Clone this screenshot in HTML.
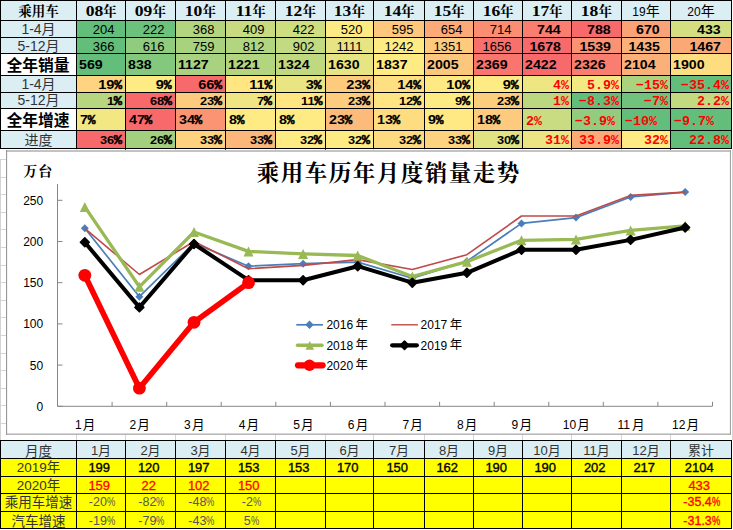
<!DOCTYPE html>
<html><head><meta charset="utf-8"><title>chart</title><style>
html,body{margin:0;padding:0}
body{width:733px;height:530px;position:relative;overflow:hidden;background:#fff;font-family:"Liberation Sans","Noto Sans CJK SC",sans-serif;color:#000}
.c{position:absolute;box-sizing:border-box;white-space:nowrap;overflow:hidden}
.l{position:absolute}
.fs{font-family:"Liberation Serif","Noto Serif CJK SC",serif;font-weight:bold}
.lab0{text-align:center;font-size:13.5px}
.lab1{text-align:center;font-size:14px;color:#333}
.lab2{text-align:center;font-size:15.8px;font-weight:bold;padding-right:1px}
.hd{text-align:center;font:bold 15px "Liberation Serif","Noto Serif CJK SC",serif;padding-top:1px}
.hn{display:inline-block;transform:scaleX(1.17);transform-origin:center center;margin:0 1.3px}
.hy{margin-left:0}
.hd2{text-align:center;font-size:12px;padding-top:1px}
.num{text-align:right;padding-right:10.5px;padding-top:1px;font-size:13px}
.b{font-weight:bold;font-size:13px;padding-right:10.5px}
.sr,.sl{display:inline-block;transform-origin:right center}
.sl{transform-origin:left center}
.tot{text-align:left;padding-left:2px;font-weight:bold;font-size:13.5px}
.pb{text-align:right;padding-right:3px;padding-top:1px;font-weight:bold;font-size:13.5px}
.ps{text-align:right;padding-right:3px;padding-top:1px;font-weight:bold;font-size:11px}
.pbl{text-align:left;padding-left:3px;font-weight:bold;font-size:13.5px}
.pc{font-family:"Liberation Mono",monospace;font-size:.9em;margin-left:-.3px;letter-spacing:0;-webkit-text-stroke:.5px #000}
.ps .pc{font-size:1.08em}
.pr,.prl{font:bold 13.3px "Liberation Mono",monospace;color:#FF0000;text-align:right;padding-right:2px}
.prl{text-align:left;padding-left:3px}
.bl{text-align:center;font-size:13.5px;color:#333}
.bh{text-align:center;font-size:13px;color:#333;padding-top:1px}
.b19{text-align:center;padding-right:3.5px;font-size:13px;-webkit-text-stroke:.35px #000}
.b20{text-align:center;padding-right:3.5px;font-size:13px;color:#FF0000;-webkit-text-stroke:.3px #FF0000}
.bp{text-align:center;padding-left:2px;font-size:12.5px;color:#555}
.pq{display:inline-block;transform:scaleX(.75);transform-origin:left center;margin-right:-2.8px}
.bpr{text-align:center;padding-left:1.5px;font-size:12.5px;color:#FF0000;-webkit-text-stroke:.35px #FF0000}
.ax{font:12px "Liberation Sans","Noto Sans CJK SC",sans-serif;fill:#000}
.axm{font:12.6px "Liberation Sans","Noto Sans CJK SC",sans-serif;fill:#000}
.axy{font:12.4px "Liberation Sans","Noto Sans CJK SC",sans-serif;fill:#000}
</style></head><body>
<div class="c lab0" style="left:1px;top:1px;width:75px;height:19px;background:#DAEEF3;line-height:19px;padding-top:1px"><span class="fs">乘用车</span></div>
<div class="c lab1" style="left:1px;top:21px;width:75px;height:16px;background:#DAEEF3;line-height:16px;">1-4月</div>
<div class="c lab1" style="left:1px;top:38px;width:75px;height:15px;background:#DAEEF3;line-height:15px;padding-top:1px">5-12月</div>
<div class="c lab2" style="left:1px;top:54px;width:75px;height:21px;background:#FFFFFF;line-height:21px;padding-top:1px">全年销量</div>
<div class="c lab1" style="left:1px;top:76px;width:75px;height:16px;background:#DAEEF3;line-height:16px;">1-4月</div>
<div class="c lab1" style="left:1px;top:93px;width:75px;height:15px;background:#DAEEF3;line-height:15px;">5-12月</div>
<div class="c lab2" style="left:1px;top:109px;width:75px;height:21px;background:#FFFFFF;line-height:21px;padding-top:1px">全年增速</div>
<div class="c lab1" style="left:1px;top:131px;width:75px;height:17px;background:#DAEEF3;line-height:17px;padding-top:1px">进度</div>
<div class="c hd" style="left:77px;top:1px;width:48px;height:19px;background:#DAEEF3;line-height:19px;"><span class="hn">08</span><span class="hy" style="font-size:13.5px;">年</span></div>
<div class="c num" style="left:77px;top:21px;width:48px;height:16px;background:#63BE7B;line-height:16px;">204</div>
<div class="c num" style="left:77px;top:38px;width:48px;height:15px;background:#63BE7B;line-height:15px;">366</div>
<div class="c tot" style="left:77px;top:54px;width:48px;height:21px;background:#63BE7B;line-height:21px;"><span class="sl" style="transform:scaleX(1.05)">569</span></div>
<div class="c pb" style="left:77px;top:76px;width:48px;height:16px;background:#FED480;line-height:16px;"><span class="sr" style="transform:scaleX(1.08)">19<span class="pc">%</span></span></div>
<div class="c ps" style="left:77px;top:93px;width:48px;height:15px;background:#B8D680;line-height:15px;"><span class="sr" style="transform:scaleX(1.16)">1<span class="pc">%</span></span></div>
<div class="c pbl" style="left:77px;top:109px;width:48px;height:21px;background:#F3E783;line-height:21px;"><span class="sl" style="transform:scaleX(1.06)">7<span class="pc">%</span></span></div>
<div class="c ps" style="left:77px;top:131px;width:48px;height:17px;background:#F8696B;line-height:17px;"><span class="sr" style="transform:scaleX(1.16)">36<span class="pc">%</span></span></div>
<div class="c hd" style="left:126px;top:1px;width:49px;height:19px;background:#DAEEF3;line-height:19px;"><span class="hn">09</span><span class="hy" style="font-size:13.5px;">年</span></div>
<div class="c num" style="left:126px;top:21px;width:49px;height:16px;background:#6CC17C;line-height:16px;">222</div>
<div class="c num" style="left:126px;top:38px;width:49px;height:15px;background:#90CB7E;line-height:15px;">616</div>
<div class="c tot" style="left:126px;top:54px;width:49px;height:21px;background:#84C87D;line-height:21px;"><span class="sl" style="transform:scaleX(1.05)">838</span></div>
<div class="c pb" style="left:126px;top:76px;width:49px;height:16px;background:#FEEB84;line-height:16px;"><span class="sr" style="transform:scaleX(1.08)">9<span class="pc">%</span></span></div>
<div class="c ps" style="left:126px;top:93px;width:49px;height:15px;background:#F8696B;line-height:15px;"><span class="sr" style="transform:scaleX(1.16)">68<span class="pc">%</span></span></div>
<div class="c pbl" style="left:126px;top:109px;width:49px;height:21px;background:#F8696B;line-height:21px;"><span class="sl" style="transform:scaleX(1.06)">47<span class="pc">%</span></span></div>
<div class="c ps" style="left:126px;top:131px;width:49px;height:17px;background:#A2D07F;line-height:17px;"><span class="sr" style="transform:scaleX(1.16)">26<span class="pc">%</span></span></div>
<div class="c hd" style="left:176px;top:1px;width:49px;height:19px;background:#DAEEF3;line-height:19px;"><span class="hn">10</span><span class="hy" style="font-size:13.5px;">年</span></div>
<div class="c num" style="left:176px;top:21px;width:49px;height:16px;background:#B4D580;line-height:16px;">368</div>
<div class="c num" style="left:176px;top:38px;width:49px;height:15px;background:#A9D27F;line-height:15px;">759</div>
<div class="c tot" style="left:176px;top:54px;width:49px;height:21px;background:#A8D27F;line-height:21px;"><span class="sl" style="transform:scaleX(1.05)">1127</span></div>
<div class="c pb" style="left:176px;top:76px;width:49px;height:16px;background:#F8696B;line-height:16px;"><span class="sr" style="transform:scaleX(1.08)">66<span class="pc">%</span></span></div>
<div class="c ps" style="left:176px;top:93px;width:49px;height:15px;background:#FDCB7E;line-height:15px;"><span class="sr" style="transform:scaleX(1.16)">23<span class="pc">%</span></span></div>
<div class="c pbl" style="left:176px;top:109px;width:49px;height:21px;background:#FA9473;line-height:21px;"><span class="sl" style="transform:scaleX(1.06)">34<span class="pc">%</span></span></div>
<div class="c ps" style="left:176px;top:131px;width:49px;height:17px;background:#FED27F;line-height:17px;"><span class="sr" style="transform:scaleX(1.16)">33<span class="pc">%</span></span></div>
<div class="c hd" style="left:226px;top:1px;width:49px;height:19px;background:#DAEEF3;line-height:19px;"><span class="hn">11</span><span class="hy" style="font-size:13.5px;">年</span></div>
<div class="c num" style="left:226px;top:21px;width:49px;height:16px;background:#C8DB81;line-height:16px;">409</div>
<div class="c num" style="left:226px;top:38px;width:49px;height:15px;background:#B2D580;line-height:15px;">812</div>
<div class="c tot" style="left:226px;top:54px;width:49px;height:21px;background:#B3D580;line-height:21px;"><span class="sl" style="transform:scaleX(1.05)">1221</span></div>
<div class="c pb" style="left:226px;top:76px;width:49px;height:16px;background:#FFE683;line-height:16px;"><span class="sr" style="transform:scaleX(1.08)">11<span class="pc">%</span></span></div>
<div class="c ps" style="left:226px;top:93px;width:49px;height:15px;background:#EFE683;line-height:15px;"><span class="sr" style="transform:scaleX(1.16)">7<span class="pc">%</span></span></div>
<div class="c pbl" style="left:226px;top:109px;width:49px;height:21px;background:#FEEB84;line-height:21px;"><span class="sl" style="transform:scaleX(1.06)">8<span class="pc">%</span></span></div>
<div class="c ps" style="left:226px;top:131px;width:49px;height:17px;background:#FCB77A;line-height:17px;"><span class="sr" style="transform:scaleX(1.16)">33<span class="pc">%</span></span></div>
<div class="c hd" style="left:276px;top:1px;width:49px;height:19px;background:#DAEEF3;line-height:19px;"><span class="hn">12</span><span class="hy" style="font-size:13.5px;">年</span></div>
<div class="c num" style="left:276px;top:21px;width:49px;height:16px;background:#CFDD81;line-height:16px;">422</div>
<div class="c num" style="left:276px;top:38px;width:49px;height:15px;background:#C2DA81;line-height:15px;">902</div>
<div class="c tot" style="left:276px;top:54px;width:49px;height:21px;background:#C0D980;line-height:21px;"><span class="sl" style="transform:scaleX(1.05)">1324</span></div>
<div class="c pb" style="left:276px;top:76px;width:49px;height:16px;background:#EAE583;line-height:16px;"><span class="sr" style="transform:scaleX(1.08)">3<span class="pc">%</span></span></div>
<div class="c ps" style="left:276px;top:93px;width:49px;height:15px;background:#FFE683;line-height:15px;"><span class="sr" style="transform:scaleX(1.16)">11<span class="pc">%</span></span></div>
<div class="c pbl" style="left:276px;top:109px;width:49px;height:21px;background:#FFEB84;line-height:21px;"><span class="sl" style="transform:scaleX(1.06)">8<span class="pc">%</span></span></div>
<div class="c ps" style="left:276px;top:131px;width:49px;height:17px;background:#FFEB84;line-height:17px;"><span class="sr" style="transform:scaleX(1.16)">32<span class="pc">%</span></span></div>
<div class="c hd" style="left:326px;top:1px;width:47px;height:19px;background:#DAEEF3;line-height:19px;"><span class="hn">13</span><span class="hy" style="font-size:13.5px;">年</span></div>
<div class="c num" style="left:326px;top:21px;width:47px;height:16px;background:#FFEB84;line-height:16px;">520</div>
<div class="c num" style="left:326px;top:38px;width:47px;height:15px;background:#E8E483;line-height:15px;">1111</div>
<div class="c tot" style="left:326px;top:54px;width:47px;height:21px;background:#E6E483;line-height:21px;"><span class="sl" style="transform:scaleX(1.05)">1630</span></div>
<div class="c pb" style="left:326px;top:76px;width:47px;height:16px;background:#FDCB7E;line-height:16px;"><span class="sr" style="transform:scaleX(1.08)">23<span class="pc">%</span></span></div>
<div class="c ps" style="left:326px;top:93px;width:47px;height:15px;background:#FDCC7E;line-height:15px;"><span class="sr" style="transform:scaleX(1.16)">23<span class="pc">%</span></span></div>
<div class="c pbl" style="left:326px;top:109px;width:47px;height:21px;background:#FCBA7B;line-height:21px;"><span class="sl" style="transform:scaleX(1.06)">23<span class="pc">%</span></span></div>
<div class="c ps" style="left:326px;top:131px;width:47px;height:17px;background:#FFEB84;line-height:17px;"><span class="sr" style="transform:scaleX(1.16)">32<span class="pc">%</span></span></div>
<div class="c hd" style="left:374px;top:1px;width:50px;height:19px;background:#DAEEF3;line-height:19px;"><span class="hn">14</span><span class="hy" style="font-size:13.5px;">年</span></div>
<div class="c num" style="left:374px;top:21px;width:50px;height:16px;background:#FDC77D;line-height:16px;">595</div>
<div class="c num" style="left:374px;top:38px;width:50px;height:15px;background:#FFEB84;line-height:15px;">1242</div>
<div class="c tot" style="left:374px;top:54px;width:50px;height:21px;background:#FFEB84;line-height:21px;"><span class="sl" style="transform:scaleX(1.05)">1837</span></div>
<div class="c pb" style="left:374px;top:76px;width:50px;height:16px;background:#FEDF82;line-height:16px;"><span class="sr" style="transform:scaleX(1.08)">14<span class="pc">%</span></span></div>
<div class="c ps" style="left:374px;top:93px;width:50px;height:15px;background:#FFE483;line-height:15px;"><span class="sr" style="transform:scaleX(1.16)">12<span class="pc">%</span></span></div>
<div class="c pbl" style="left:374px;top:109px;width:50px;height:21px;background:#FEDD81;line-height:21px;"><span class="sl" style="transform:scaleX(1.06)">13<span class="pc">%</span></span></div>
<div class="c ps" style="left:374px;top:131px;width:50px;height:17px;background:#FEDB81;line-height:17px;"><span class="sr" style="transform:scaleX(1.16)">32<span class="pc">%</span></span></div>
<div class="c hd" style="left:425px;top:1px;width:48px;height:19px;background:#DAEEF3;line-height:19px;"><span class="hn">15</span><span class="hy" style="font-size:13.5px;">年</span></div>
<div class="c num" style="left:425px;top:21px;width:48px;height:16px;background:#FCAA78;line-height:16px;">654</div>
<div class="c num" style="left:425px;top:38px;width:48px;height:15px;background:#FDCA7E;line-height:15px;">1351</div>
<div class="c tot" style="left:425px;top:54px;width:48px;height:21px;background:#FDC67D;line-height:21px;"><span class="sl" style="transform:scaleX(1.05)">2005</span></div>
<div class="c pb" style="left:425px;top:76px;width:48px;height:16px;background:#FFE984;line-height:16px;"><span class="sr" style="transform:scaleX(1.08)">10<span class="pc">%</span></span></div>
<div class="c ps" style="left:425px;top:93px;width:48px;height:15px;background:#FFEB84;line-height:15px;"><span class="sr" style="transform:scaleX(1.16)">9<span class="pc">%</span></span></div>
<div class="c pbl" style="left:425px;top:109px;width:48px;height:21px;background:#FFE984;line-height:21px;"><span class="sl" style="transform:scaleX(1.06)">9<span class="pc">%</span></span></div>
<div class="c ps" style="left:425px;top:131px;width:48px;height:17px;background:#FED37F;line-height:17px;"><span class="sr" style="transform:scaleX(1.16)">33<span class="pc">%</span></span></div>
<div class="c hd" style="left:474px;top:1px;width:48px;height:19px;background:#DAEEF3;line-height:19px;"><span class="hn">16</span><span class="hy" style="font-size:13.5px;">年</span></div>
<div class="c num" style="left:474px;top:21px;width:48px;height:16px;background:#FA8D72;line-height:16px;">714</div>
<div class="c num" style="left:474px;top:38px;width:48px;height:15px;background:#F8706C;line-height:15px;">1656</div>
<div class="c tot" style="left:474px;top:54px;width:48px;height:21px;background:#F9756D;line-height:21px;"><span class="sl" style="transform:scaleX(1.05)">2369</span></div>
<div class="c pb" style="left:474px;top:76px;width:48px;height:16px;background:#FFEB84;line-height:16px;"><span class="sr" style="transform:scaleX(1.08)">9<span class="pc">%</span></span></div>
<div class="c ps" style="left:474px;top:93px;width:48px;height:15px;background:#FDCD7E;line-height:15px;"><span class="sr" style="transform:scaleX(1.16)">23<span class="pc">%</span></span></div>
<div class="c pbl" style="left:474px;top:109px;width:48px;height:21px;background:#FDCA7E;line-height:21px;"><span class="sl" style="transform:scaleX(1.06)">18<span class="pc">%</span></span></div>
<div class="c ps" style="left:474px;top:131px;width:48px;height:17px;background:#E1E282;line-height:17px;"><span class="sr" style="transform:scaleX(1.16)">30<span class="pc">%</span></span></div>
<div class="c hd" style="left:523px;top:1px;width:48px;height:19px;background:#DAEEF3;line-height:19px;"><span class="hn">17</span><span class="hy" style="font-size:13.5px;">年</span></div>
<div class="c num b" style="left:523px;top:21px;width:48px;height:16px;background:#F97E6F;line-height:16px;"><span class="sr" style="transform:scaleX(1.09)">744</span></div>
<div class="c num b" style="left:523px;top:38px;width:48px;height:15px;background:#F8696B;line-height:15px;"><span class="sr" style="transform:scaleX(1.09)">1678</span></div>
<div class="c tot" style="left:523px;top:54px;width:48px;height:21px;background:#F8696B;line-height:21px;"><span class="sl" style="transform:scaleX(1.05)">2422</span></div>
<div class="c pr" style="left:523px;top:76px;width:48px;height:16px;background:#EEE683;line-height:16px;padding-top:2px">4%</div>
<div class="c pr" style="left:523px;top:93px;width:48px;height:15px;background:#BBD780;line-height:15px;padding-top:1px">1%</div>
<div class="c prl" style="left:523px;top:109px;width:48px;height:21px;background:#CADC81;line-height:21px;padding-top:2px">2%</div>
<div class="c pr" style="left:523px;top:131px;width:48px;height:17px;background:#EBE583;line-height:17px;padding-top:1px">31%</div>
<div class="c hd" style="left:572px;top:1px;width:49px;height:19px;background:#DAEEF3;line-height:19px;"><span class="hn">18</span><span class="hy" style="font-size:13.5px;">年</span></div>
<div class="c num b" style="left:572px;top:21px;width:49px;height:16px;background:#F8696B;line-height:16px;"><span class="sr" style="transform:scaleX(1.09)">788</span></div>
<div class="c num b" style="left:572px;top:38px;width:49px;height:15px;background:#FA9273;line-height:15px;"><span class="sr" style="transform:scaleX(1.09)">1539</span></div>
<div class="c tot" style="left:572px;top:54px;width:49px;height:21px;background:#F97E6F;line-height:21px;"><span class="sl" style="transform:scaleX(1.05)">2326</span></div>
<div class="c pr" style="left:572px;top:76px;width:49px;height:16px;background:#F4E883;line-height:16px;padding-top:2px">5.9%</div>
<div class="c pr" style="left:572px;top:93px;width:49px;height:15px;background:#63BE7B;line-height:15px;padding-top:1px">−8.3%</div>
<div class="c prl" style="left:572px;top:109px;width:49px;height:21px;background:#94CC7E;line-height:21px;padding-top:2px">−3.9%</div>
<div class="c pr" style="left:572px;top:131px;width:49px;height:17px;background:#FBAA77;line-height:17px;padding-top:1px">33.9%</div>
<div class="c hd2" style="left:622px;top:1px;width:48px;height:19px;background:#DAEEF3;line-height:19px;">19<span style="font-size:14px;">年</span></div>
<div class="c num b" style="left:622px;top:21px;width:48px;height:16px;background:#FBA276;line-height:16px;"><span class="sr" style="transform:scaleX(1.09)">670</span></div>
<div class="c num b" style="left:622px;top:38px;width:48px;height:15px;background:#FCB179;line-height:15px;"><span class="sr" style="transform:scaleX(1.09)">1435</span></div>
<div class="c tot" style="left:622px;top:54px;width:48px;height:21px;background:#FCB079;line-height:21px;"><span class="sl" style="transform:scaleX(1.05)">2104</span></div>
<div class="c pr" style="left:622px;top:76px;width:48px;height:16px;background:#AAD37F;line-height:16px;padding-top:2px">−15%</div>
<div class="c pr" style="left:622px;top:93px;width:48px;height:15px;background:#71C27C;line-height:15px;padding-top:1px">−7%</div>
<div class="c prl" style="left:622px;top:109px;width:48px;height:21px;background:#64BE7B;line-height:21px;padding-top:2px">−10%</div>
<div class="c pr" style="left:622px;top:131px;width:48px;height:17px;background:#FEEB84;line-height:17px;padding-top:1px">32%</div>
<div class="c hd2" style="left:671px;top:1px;width:60px;height:19px;background:#DAEEF3;line-height:19px;">20<span style="font-size:14px;">年</span></div>
<div class="c num b" style="left:671px;top:21px;width:60px;height:16px;background:#D4DF82;line-height:16px;"><span class="sr" style="transform:scaleX(1.09)">433</span></div>
<div class="c num b" style="left:671px;top:38px;width:60px;height:15px;background:#FBA877;line-height:15px;"><span class="sr" style="transform:scaleX(1.09)">1467</span></div>
<div class="c tot" style="left:671px;top:54px;width:60px;height:21px;background:#FEDD81;line-height:21px;"><span class="sl" style="transform:scaleX(1.05)">1900</span></div>
<div class="c pr" style="left:671px;top:76px;width:60px;height:16px;background:#63BE7B;line-height:16px;padding-top:2px">−35.4%</div>
<div class="c pr" style="left:671px;top:93px;width:60px;height:15px;background:#C3DA81;line-height:15px;padding-top:1px">2.2%</div>
<div class="c prl" style="left:671px;top:109px;width:60px;height:21px;background:#63BE7B;line-height:21px;padding-top:2px">−9.7%</div>
<div class="c pr" style="left:671px;top:131px;width:60px;height:17px;background:#63BE7B;line-height:17px;padding-top:1px">22.8%</div>
<div class="c bl" style="left:1px;top:441px;width:75px;height:17px;background:#DAEEF3;line-height:17px;padding-top:2px">月度</div>
<div class="c bl" style="left:1px;top:459px;width:75px;height:17px;background:#FFFF00;line-height:17px;">2019年</div>
<div class="c bl" style="left:1px;top:477px;width:75px;height:16px;background:#FFFF00;line-height:16px;padding-top:1px">2020年</div>
<div class="c bl" style="left:1px;top:494px;width:75px;height:17px;background:#FFFF00;line-height:17px;">乘用车增速</div>
<div class="c bl" style="left:1px;top:512px;width:75px;height:16px;background:#FFFF00;line-height:16px;padding-top:2px">汽车增速</div>
<div class="c bh" style="left:77px;top:441px;width:48px;height:17px;background:#DAEEF3;line-height:17px;">1月</div>
<div class="c b19" style="left:77px;top:459px;width:48px;height:17px;background:#FFFF00;line-height:17px;">199</div>
<div class="c b20" style="left:77px;top:477px;width:48px;height:16px;background:#FFFF00;line-height:16px;padding-top:1px">159</div>
<div class="c bp" style="left:77px;top:494px;width:48px;height:17px;background:#FFFF00;line-height:17px;">-20<span class="pq">%</span></div>
<div class="c bp" style="left:77px;top:512px;width:48px;height:16px;background:#FFFF00;line-height:16px;padding-top:1px">-19<span class="pq">%</span></div>
<div class="c bh" style="left:126px;top:441px;width:49px;height:17px;background:#DAEEF3;line-height:17px;">2月</div>
<div class="c b19" style="left:126px;top:459px;width:49px;height:17px;background:#FFFF00;line-height:17px;">120</div>
<div class="c b20" style="left:126px;top:477px;width:49px;height:16px;background:#FFFF00;line-height:16px;padding-top:1px">22</div>
<div class="c bp" style="left:126px;top:494px;width:49px;height:17px;background:#FFFF00;line-height:17px;">-82<span class="pq">%</span></div>
<div class="c bp" style="left:126px;top:512px;width:49px;height:16px;background:#FFFF00;line-height:16px;padding-top:1px">-79<span class="pq">%</span></div>
<div class="c bh" style="left:176px;top:441px;width:49px;height:17px;background:#DAEEF3;line-height:17px;">3月</div>
<div class="c b19" style="left:176px;top:459px;width:49px;height:17px;background:#FFFF00;line-height:17px;">197</div>
<div class="c b20" style="left:176px;top:477px;width:49px;height:16px;background:#FFFF00;line-height:16px;padding-top:1px">102</div>
<div class="c bp" style="left:176px;top:494px;width:49px;height:17px;background:#FFFF00;line-height:17px;">-48<span class="pq">%</span></div>
<div class="c bp" style="left:176px;top:512px;width:49px;height:16px;background:#FFFF00;line-height:16px;padding-top:1px">-43<span class="pq">%</span></div>
<div class="c bh" style="left:226px;top:441px;width:49px;height:17px;background:#DAEEF3;line-height:17px;">4月</div>
<div class="c b19" style="left:226px;top:459px;width:49px;height:17px;background:#FFFF00;line-height:17px;">153</div>
<div class="c b20" style="left:226px;top:477px;width:49px;height:16px;background:#FFFF00;line-height:16px;padding-top:1px">150</div>
<div class="c bp" style="left:226px;top:494px;width:49px;height:17px;background:#FFFF00;line-height:17px;">-2<span class="pq">%</span></div>
<div class="c bp" style="left:226px;top:512px;width:49px;height:16px;background:#FFFF00;line-height:16px;padding-top:1px">5<span class="pq">%</span></div>
<div class="c bh" style="left:276px;top:441px;width:49px;height:17px;background:#DAEEF3;line-height:17px;">5月</div>
<div class="c b19" style="left:276px;top:459px;width:49px;height:17px;background:#FFFF00;line-height:17px;">153</div>
<div class="c b20" style="left:276px;top:477px;width:49px;height:16px;background:#FFFF00;line-height:16px;padding-top:1px"></div>
<div class="c bp" style="left:276px;top:494px;width:49px;height:17px;background:#FFFF00;line-height:17px;"></div>
<div class="c bp" style="left:276px;top:512px;width:49px;height:16px;background:#FFFF00;line-height:16px;padding-top:1px"></div>
<div class="c bh" style="left:326px;top:441px;width:47px;height:17px;background:#DAEEF3;line-height:17px;">6月</div>
<div class="c b19" style="left:326px;top:459px;width:47px;height:17px;background:#FFFF00;line-height:17px;">170</div>
<div class="c b20" style="left:326px;top:477px;width:47px;height:16px;background:#FFFF00;line-height:16px;padding-top:1px"></div>
<div class="c bp" style="left:326px;top:494px;width:47px;height:17px;background:#FFFF00;line-height:17px;"></div>
<div class="c bp" style="left:326px;top:512px;width:47px;height:16px;background:#FFFF00;line-height:16px;padding-top:1px"></div>
<div class="c bh" style="left:374px;top:441px;width:50px;height:17px;background:#DAEEF3;line-height:17px;">7月</div>
<div class="c b19" style="left:374px;top:459px;width:50px;height:17px;background:#FFFF00;line-height:17px;">150</div>
<div class="c b20" style="left:374px;top:477px;width:50px;height:16px;background:#FFFF00;line-height:16px;padding-top:1px"></div>
<div class="c bp" style="left:374px;top:494px;width:50px;height:17px;background:#FFFF00;line-height:17px;"></div>
<div class="c bp" style="left:374px;top:512px;width:50px;height:16px;background:#FFFF00;line-height:16px;padding-top:1px"></div>
<div class="c bh" style="left:425px;top:441px;width:48px;height:17px;background:#DAEEF3;line-height:17px;">8月</div>
<div class="c b19" style="left:425px;top:459px;width:48px;height:17px;background:#FFFF00;line-height:17px;">162</div>
<div class="c b20" style="left:425px;top:477px;width:48px;height:16px;background:#FFFF00;line-height:16px;padding-top:1px"></div>
<div class="c bp" style="left:425px;top:494px;width:48px;height:17px;background:#FFFF00;line-height:17px;"></div>
<div class="c bp" style="left:425px;top:512px;width:48px;height:16px;background:#FFFF00;line-height:16px;padding-top:1px"></div>
<div class="c bh" style="left:474px;top:441px;width:48px;height:17px;background:#DAEEF3;line-height:17px;">9月</div>
<div class="c b19" style="left:474px;top:459px;width:48px;height:17px;background:#FFFF00;line-height:17px;">190</div>
<div class="c b20" style="left:474px;top:477px;width:48px;height:16px;background:#FFFF00;line-height:16px;padding-top:1px"></div>
<div class="c bp" style="left:474px;top:494px;width:48px;height:17px;background:#FFFF00;line-height:17px;"></div>
<div class="c bp" style="left:474px;top:512px;width:48px;height:16px;background:#FFFF00;line-height:16px;padding-top:1px"></div>
<div class="c bh" style="left:523px;top:441px;width:48px;height:17px;background:#DAEEF3;line-height:17px;">10月</div>
<div class="c b19" style="left:523px;top:459px;width:48px;height:17px;background:#FFFF00;line-height:17px;">190</div>
<div class="c b20" style="left:523px;top:477px;width:48px;height:16px;background:#FFFF00;line-height:16px;padding-top:1px"></div>
<div class="c bp" style="left:523px;top:494px;width:48px;height:17px;background:#FFFF00;line-height:17px;"></div>
<div class="c bp" style="left:523px;top:512px;width:48px;height:16px;background:#FFFF00;line-height:16px;padding-top:1px"></div>
<div class="c bh" style="left:572px;top:441px;width:49px;height:17px;background:#DAEEF3;line-height:17px;">11月</div>
<div class="c b19" style="left:572px;top:459px;width:49px;height:17px;background:#FFFF00;line-height:17px;">202</div>
<div class="c b20" style="left:572px;top:477px;width:49px;height:16px;background:#FFFF00;line-height:16px;padding-top:1px"></div>
<div class="c bp" style="left:572px;top:494px;width:49px;height:17px;background:#FFFF00;line-height:17px;"></div>
<div class="c bp" style="left:572px;top:512px;width:49px;height:16px;background:#FFFF00;line-height:16px;padding-top:1px"></div>
<div class="c bh" style="left:622px;top:441px;width:48px;height:17px;background:#DAEEF3;line-height:17px;">12月</div>
<div class="c b19" style="left:622px;top:459px;width:48px;height:17px;background:#FFFF00;line-height:17px;">217</div>
<div class="c b20" style="left:622px;top:477px;width:48px;height:16px;background:#FFFF00;line-height:16px;padding-top:1px"></div>
<div class="c bp" style="left:622px;top:494px;width:48px;height:17px;background:#FFFF00;line-height:17px;"></div>
<div class="c bp" style="left:622px;top:512px;width:48px;height:16px;background:#FFFF00;line-height:16px;padding-top:1px"></div>
<div class="c bh" style="left:671px;top:441px;width:60px;height:17px;background:#DAEEF3;line-height:17px;">累计</div>
<div class="c b19" style="left:671px;top:459px;width:60px;height:17px;background:#FFFF00;line-height:17px;">2104</div>
<div class="c b20" style="left:671px;top:477px;width:60px;height:16px;background:#FFFF00;line-height:16px;padding-top:1px">433</div>
<div class="c bpr" style="left:671px;top:494px;width:60px;height:17px;background:#FFFF00;line-height:17px;">-35.4<span class="pq">%</span></div>
<div class="c bpr" style="left:671px;top:512px;width:60px;height:16px;background:#FFFF00;line-height:16px;padding-top:1px">-31.3<span class="pq">%</span></div>
<div class="l" style="left:0px;top:159px;width:7px;height:1px;background:#D4D4D4"></div>
<div class="l" style="left:0px;top:177px;width:7px;height:1px;background:#D4D4D4"></div>
<div class="l" style="left:0px;top:194px;width:7px;height:1px;background:#D4D4D4"></div>
<div class="l" style="left:0px;top:212px;width:7px;height:1px;background:#D4D4D4"></div>
<div class="l" style="left:0px;top:229px;width:7px;height:1px;background:#D4D4D4"></div>
<div class="l" style="left:0px;top:247px;width:7px;height:1px;background:#D4D4D4"></div>
<div class="l" style="left:0px;top:265px;width:7px;height:1px;background:#D4D4D4"></div>
<div class="l" style="left:0px;top:282px;width:7px;height:1px;background:#D4D4D4"></div>
<div class="l" style="left:0px;top:300px;width:7px;height:1px;background:#D4D4D4"></div>
<div class="l" style="left:0px;top:317px;width:7px;height:1px;background:#D4D4D4"></div>
<div class="l" style="left:0px;top:335px;width:7px;height:1px;background:#D4D4D4"></div>
<div class="l" style="left:0px;top:353px;width:7px;height:1px;background:#D4D4D4"></div>
<div class="l" style="left:0px;top:370px;width:7px;height:1px;background:#D4D4D4"></div>
<div class="l" style="left:0px;top:388px;width:7px;height:1px;background:#D4D4D4"></div>
<div class="l" style="left:0px;top:405px;width:7px;height:1px;background:#D4D4D4"></div>
<div class="l" style="left:0px;top:423px;width:7px;height:1px;background:#D4D4D4"></div>
<div class="l" style="left:76px;top:149px;width:1px;height:291px;background:#D4D4D4"></div>
<div class="l" style="left:125px;top:149px;width:1px;height:291px;background:#D4D4D4"></div>
<div class="l" style="left:175px;top:149px;width:1px;height:291px;background:#D4D4D4"></div>
<div class="l" style="left:225px;top:149px;width:1px;height:291px;background:#D4D4D4"></div>
<div class="l" style="left:275px;top:149px;width:1px;height:291px;background:#D4D4D4"></div>
<div class="l" style="left:325px;top:149px;width:1px;height:291px;background:#D4D4D4"></div>
<div class="l" style="left:373px;top:149px;width:1px;height:291px;background:#D4D4D4"></div>
<div class="l" style="left:424px;top:149px;width:1px;height:291px;background:#D4D4D4"></div>
<div class="l" style="left:473px;top:149px;width:1px;height:291px;background:#D4D4D4"></div>
<div class="l" style="left:522px;top:149px;width:1px;height:291px;background:#D4D4D4"></div>
<div class="l" style="left:571px;top:149px;width:1px;height:291px;background:#D4D4D4"></div>
<div class="l" style="left:621px;top:149px;width:1px;height:291px;background:#D4D4D4"></div>
<div class="l" style="left:670px;top:149px;width:1px;height:291px;background:#D4D4D4"></div>
<div class="l" style="left:0px;top:159px;width:1px;height:281px;background:#D4D4D4"></div>
<div class="l" style="left:732px;top:149px;width:1px;height:291px;background:#D4D4D4"></div>
<div class="l" style="left:0px;top:0px;width:732px;height:1px;background:#000"></div>
<div class="l" style="left:0px;top:20px;width:732px;height:1px;background:#000"></div>
<div class="l" style="left:0px;top:37px;width:732px;height:1px;background:#000"></div>
<div class="l" style="left:0px;top:53px;width:732px;height:1px;background:#000"></div>
<div class="l" style="left:0px;top:75px;width:732px;height:1px;background:#000"></div>
<div class="l" style="left:0px;top:92px;width:732px;height:1px;background:#000"></div>
<div class="l" style="left:0px;top:108px;width:732px;height:1px;background:#000"></div>
<div class="l" style="left:0px;top:130px;width:732px;height:1px;background:#000"></div>
<div class="l" style="left:0px;top:148px;width:732px;height:1px;background:#000"></div>
<div class="l" style="left:0px;top:0px;width:1px;height:149px;background:#000"></div>
<div class="l" style="left:76px;top:0px;width:1px;height:149px;background:#000"></div>
<div class="l" style="left:125px;top:0px;width:1px;height:149px;background:#000"></div>
<div class="l" style="left:175px;top:0px;width:1px;height:149px;background:#000"></div>
<div class="l" style="left:225px;top:0px;width:1px;height:149px;background:#000"></div>
<div class="l" style="left:275px;top:0px;width:1px;height:149px;background:#000"></div>
<div class="l" style="left:325px;top:0px;width:1px;height:149px;background:#000"></div>
<div class="l" style="left:373px;top:0px;width:1px;height:149px;background:#000"></div>
<div class="l" style="left:424px;top:0px;width:1px;height:149px;background:#000"></div>
<div class="l" style="left:473px;top:0px;width:1px;height:149px;background:#000"></div>
<div class="l" style="left:522px;top:0px;width:1px;height:149px;background:#000"></div>
<div class="l" style="left:571px;top:0px;width:1px;height:149px;background:#000"></div>
<div class="l" style="left:621px;top:0px;width:1px;height:149px;background:#000"></div>
<div class="l" style="left:670px;top:0px;width:1px;height:149px;background:#000"></div>
<div class="l" style="left:731px;top:0px;width:1px;height:149px;background:#000"></div>
<div class="l" style="left:125px;top:149px;width:1px;height:1px;background:#333"></div>
<div class="l" style="left:225px;top:149px;width:1px;height:1px;background:#333"></div>
<div class="l" style="left:325px;top:149px;width:1px;height:1px;background:#333"></div>
<div class="l" style="left:571px;top:149px;width:1px;height:1px;background:#333"></div>
<div class="l" style="left:670px;top:149px;width:1px;height:1px;background:#333"></div>
<div class="l" style="left:0px;top:440px;width:732px;height:1px;background:#000"></div>
<div class="l" style="left:0px;top:458px;width:732px;height:1px;background:#000"></div>
<div class="l" style="left:0px;top:476px;width:732px;height:1px;background:#000"></div>
<div class="l" style="left:0px;top:493px;width:732px;height:1px;background:#000"></div>
<div class="l" style="left:0px;top:511px;width:732px;height:1px;background:#000"></div>
<div class="l" style="left:0px;top:528px;width:732px;height:1px;background:#000"></div>
<div class="l" style="left:0px;top:440px;width:1px;height:89px;background:#000"></div>
<div class="l" style="left:76px;top:440px;width:1px;height:89px;background:#000"></div>
<div class="l" style="left:125px;top:440px;width:1px;height:89px;background:#000"></div>
<div class="l" style="left:175px;top:440px;width:1px;height:89px;background:#000"></div>
<div class="l" style="left:225px;top:440px;width:1px;height:89px;background:#000"></div>
<div class="l" style="left:275px;top:440px;width:1px;height:89px;background:#000"></div>
<div class="l" style="left:325px;top:440px;width:1px;height:89px;background:#000"></div>
<div class="l" style="left:373px;top:440px;width:1px;height:89px;background:#000"></div>
<div class="l" style="left:424px;top:440px;width:1px;height:89px;background:#000"></div>
<div class="l" style="left:473px;top:440px;width:1px;height:89px;background:#000"></div>
<div class="l" style="left:522px;top:440px;width:1px;height:89px;background:#000"></div>
<div class="l" style="left:571px;top:440px;width:1px;height:89px;background:#000"></div>
<div class="l" style="left:621px;top:440px;width:1px;height:89px;background:#000"></div>
<div class="l" style="left:670px;top:440px;width:1px;height:89px;background:#000"></div>
<div class="l" style="left:731px;top:440px;width:1px;height:89px;background:#000"></div>
<svg class="chart" width="733" height="530" viewBox="0 0 733 530" style="position:absolute;left:0;top:0">
<rect x="6.1" y="150.1" width="724.8" height="284.6" fill="#fff"/>
<rect x="6.1" y="150.1" width="724.8" height="1.8" fill="#BDBDBD"/>
<rect x="6.1" y="433.6" width="724.8" height="1.1" fill="#999"/>
<rect x="6.1" y="150.1" width="1" height="284.6" fill="#8C8C8C"/>
<rect x="729.9" y="150.1" width="1" height="284.6" fill="#999"/>
<path d="M57.5,184V406.3H712.3" fill="none" stroke="#868686" stroke-width="1"/>
<line x1="57.5" y1="406.3" x2="62.5" y2="406.3" stroke="#868686" stroke-width="1"/>
<text x="43.2" y="410.7" text-anchor="end" class="ax">0</text>
<line x1="57.5" y1="365.1" x2="62.5" y2="365.1" stroke="#868686" stroke-width="1"/>
<text x="43.2" y="369.5" text-anchor="end" class="ax">50</text>
<line x1="57.5" y1="323.9" x2="62.5" y2="323.9" stroke="#868686" stroke-width="1"/>
<text x="43.2" y="328.3" text-anchor="end" class="ax">100</text>
<line x1="57.5" y1="282.7" x2="62.5" y2="282.7" stroke="#868686" stroke-width="1"/>
<text x="43.2" y="287.1" text-anchor="end" class="ax">150</text>
<line x1="57.5" y1="241.5" x2="62.5" y2="241.5" stroke="#868686" stroke-width="1"/>
<text x="43.2" y="245.9" text-anchor="end" class="ax">200</text>
<line x1="57.5" y1="200.3" x2="62.5" y2="200.3" stroke="#868686" stroke-width="1"/>
<text x="43.2" y="204.7" text-anchor="end" class="ax">250</text>
<line x1="112.1" y1="401.8" x2="112.1" y2="406.3" stroke="#868686" stroke-width="1"/>
<line x1="166.7" y1="401.8" x2="166.7" y2="406.3" stroke="#868686" stroke-width="1"/>
<line x1="221.2" y1="401.8" x2="221.2" y2="406.3" stroke="#868686" stroke-width="1"/>
<line x1="275.8" y1="401.8" x2="275.8" y2="406.3" stroke="#868686" stroke-width="1"/>
<line x1="330.4" y1="401.8" x2="330.4" y2="406.3" stroke="#868686" stroke-width="1"/>
<line x1="385.0" y1="401.8" x2="385.0" y2="406.3" stroke="#868686" stroke-width="1"/>
<line x1="439.6" y1="401.8" x2="439.6" y2="406.3" stroke="#868686" stroke-width="1"/>
<line x1="494.2" y1="401.8" x2="494.2" y2="406.3" stroke="#868686" stroke-width="1"/>
<line x1="548.8" y1="401.8" x2="548.8" y2="406.3" stroke="#868686" stroke-width="1"/>
<line x1="603.3" y1="401.8" x2="603.3" y2="406.3" stroke="#868686" stroke-width="1"/>
<line x1="657.9" y1="401.8" x2="657.9" y2="406.3" stroke="#868686" stroke-width="1"/>
<line x1="712.5" y1="401.8" x2="712.5" y2="406.3" stroke="#868686" stroke-width="1"/>
<text x="74.9" y="429.2" class="ax">1</text>
<text x="82.78" y="428.7" class="axm">月</text>
<text x="129.5" y="429.2" class="ax">2</text>
<text x="137.36" y="428.7" class="axm">月</text>
<text x="184.1" y="429.2" class="ax">3</text>
<text x="191.94" y="428.7" class="axm">月</text>
<text x="238.7" y="429.2" class="ax">4</text>
<text x="246.53" y="428.7" class="axm">月</text>
<text x="293.2" y="429.2" class="ax">5</text>
<text x="301.11" y="428.7" class="axm">月</text>
<text x="347.8" y="429.2" class="ax">6</text>
<text x="355.69" y="428.7" class="axm">月</text>
<text x="402.4" y="429.2" class="ax">7</text>
<text x="410.28" y="428.7" class="axm">月</text>
<text x="457.0" y="429.2" class="ax">8</text>
<text x="464.86" y="428.7" class="axm">月</text>
<text x="511.6" y="429.2" class="ax">9</text>
<text x="519.44" y="428.7" class="axm">月</text>
<text x="562.8" y="429.2" class="ax">10</text>
<text x="577.36" y="428.7" class="axm">月</text>
<text x="617.4" y="429.2" class="ax">11</text>
<text x="631.95" y="428.7" class="axm">月</text>
<text x="672.0" y="429.2" class="ax">12</text>
<text x="686.53" y="428.7" class="axm">月</text>
<text x="23.2" y="176.2" font-size="14" font-weight="bold" letter-spacing="1" fill="#000" font-family="&quot;Liberation Serif&quot;,&quot;Noto Serif CJK SC&quot;,serif">万台</text>
<text x="256.75" y="180.5" font-size="22.5" font-weight="bold" letter-spacing="1.5" fill="#000" font-family="&quot;Liberation Serif&quot;,&quot;Noto Serif CJK SC&quot;,serif">乘用车历年月度销量走势</text>
<polyline points="84.8,228.3 139.4,296.7 194.0,243.1 248.5,266.2 303.1,263.7 357.7,262.1 412.3,278.2 466.9,261.3 521.5,223.4 576.0,217.6 630.6,197.0 685.2,192.1" fill="none" stroke="#4A7EBB" stroke-width="1.7" stroke-linejoin="round"/>
<path d="M84.8,224.3L88.8,228.3L84.8,232.3L80.8,228.3Z" fill="#4A7EBB"/>
<path d="M139.4,292.7L143.4,296.7L139.4,300.7L135.4,296.7Z" fill="#4A7EBB"/>
<path d="M194.0,239.1L198.0,243.1L194.0,247.1L190.0,243.1Z" fill="#4A7EBB"/>
<path d="M248.5,262.2L252.5,266.2L248.5,270.2L244.5,266.2Z" fill="#4A7EBB"/>
<path d="M303.1,259.7L307.1,263.7L303.1,267.7L299.1,263.7Z" fill="#4A7EBB"/>
<path d="M357.7,258.1L361.7,262.1L357.7,266.1L353.7,262.1Z" fill="#4A7EBB"/>
<path d="M412.3,274.2L416.3,278.2L412.3,282.2L408.3,278.2Z" fill="#4A7EBB"/>
<path d="M466.9,257.3L470.9,261.3L466.9,265.3L462.9,261.3Z" fill="#4A7EBB"/>
<path d="M521.5,219.4L525.5,223.4L521.5,227.4L517.5,223.4Z" fill="#4A7EBB"/>
<path d="M576.0,213.6L580.0,217.6L576.0,221.6L572.0,217.6Z" fill="#4A7EBB"/>
<path d="M630.6,193.0L634.6,197.0L630.6,201.0L626.6,197.0Z" fill="#4A7EBB"/>
<path d="M685.2,188.1L689.2,192.1L685.2,196.1L681.2,192.1Z" fill="#4A7EBB"/>
<polyline points="84.8,228.3 139.4,274.5 194.0,241.5 248.5,268.7 303.1,265.4 357.7,259.6 412.3,269.5 466.9,254.7 521.5,216.0 576.0,216.0 630.6,195.4 685.2,192.1" fill="none" stroke="#BE4B48" stroke-width="1.6" stroke-linejoin="round"/>
<polyline points="84.8,206.9 139.4,286.8 194.0,232.0 248.5,251.4 303.1,253.9 357.7,255.5 412.3,276.5 466.9,261.7 521.5,240.3 576.0,239.4 630.6,230.4 685.2,225.8" fill="none" stroke="#98B954" stroke-width="3.3" stroke-linejoin="round" stroke-linecap="round"/>
<path d="M84.8,201.9L89.8,211.9L79.8,211.9Z" fill="#98B954"/>
<path d="M139.4,281.8L144.4,291.8L134.4,291.8Z" fill="#98B954"/>
<path d="M194.0,227.0L199.0,237.0L189.0,237.0Z" fill="#98B954"/>
<path d="M248.5,246.4L253.5,256.4L243.5,256.4Z" fill="#98B954"/>
<path d="M303.1,248.9L308.1,258.9L298.1,258.9Z" fill="#98B954"/>
<path d="M357.7,250.5L362.7,260.5L352.7,260.5Z" fill="#98B954"/>
<path d="M412.3,271.5L417.3,281.5L407.3,281.5Z" fill="#98B954"/>
<path d="M466.9,256.7L471.9,266.7L461.9,266.7Z" fill="#98B954"/>
<path d="M521.5,235.3L526.5,245.3L516.5,245.3Z" fill="#98B954"/>
<path d="M576.0,234.4L581.0,244.4L571.0,244.4Z" fill="#98B954"/>
<path d="M630.6,225.4L635.6,235.4L625.6,235.4Z" fill="#98B954"/>
<path d="M685.2,220.8L690.2,230.8L680.2,230.8Z" fill="#98B954"/>
<polyline points="84.8,242.3 139.4,307.4 194.0,244.0 248.5,280.2 303.1,280.2 357.7,266.2 412.3,282.7 466.9,272.8 521.5,249.7 576.0,249.7 630.6,239.9 685.2,227.5" fill="none" stroke="#000" stroke-width="4.0" stroke-linejoin="round" stroke-linecap="round"/>
<path d="M84.8,237.9L89.2,242.3L84.8,246.7L80.4,242.3Z" fill="#000" stroke="#000" stroke-width="1.6" stroke-linejoin="round"/>
<path d="M139.4,303.0L143.8,307.4L139.4,311.8L135.0,307.4Z" fill="#000" stroke="#000" stroke-width="1.6" stroke-linejoin="round"/>
<path d="M194.0,239.6L198.4,244.0L194.0,248.4L189.6,244.0Z" fill="#000" stroke="#000" stroke-width="1.6" stroke-linejoin="round"/>
<path d="M248.5,275.8L252.9,280.2L248.5,284.6L244.1,280.2Z" fill="#000" stroke="#000" stroke-width="1.6" stroke-linejoin="round"/>
<path d="M303.1,275.8L307.5,280.2L303.1,284.6L298.7,280.2Z" fill="#000" stroke="#000" stroke-width="1.6" stroke-linejoin="round"/>
<path d="M357.7,261.8L362.1,266.2L357.7,270.6L353.3,266.2Z" fill="#000" stroke="#000" stroke-width="1.6" stroke-linejoin="round"/>
<path d="M412.3,278.3L416.7,282.7L412.3,287.1L407.9,282.7Z" fill="#000" stroke="#000" stroke-width="1.6" stroke-linejoin="round"/>
<path d="M466.9,268.4L471.3,272.8L466.9,277.2L462.5,272.8Z" fill="#000" stroke="#000" stroke-width="1.6" stroke-linejoin="round"/>
<path d="M521.5,245.3L525.9,249.7L521.5,254.1L517.1,249.7Z" fill="#000" stroke="#000" stroke-width="1.6" stroke-linejoin="round"/>
<path d="M576.0,245.3L580.4,249.7L576.0,254.1L571.6,249.7Z" fill="#000" stroke="#000" stroke-width="1.6" stroke-linejoin="round"/>
<path d="M630.6,235.5L635.0,239.9L630.6,244.3L626.2,239.9Z" fill="#000" stroke="#000" stroke-width="1.6" stroke-linejoin="round"/>
<path d="M685.2,223.1L689.6,227.5L685.2,231.9L680.8,227.5Z" fill="#000" stroke="#000" stroke-width="1.6" stroke-linejoin="round"/>
<polyline points="84.8,275.3 139.4,388.2 194.0,322.3 248.5,282.7" fill="none" stroke="#FF0000" stroke-width="5.6" stroke-linejoin="round" stroke-linecap="round"/>
<circle cx="84.8" cy="275.3" r="6.4" fill="#FF0000"/>
<circle cx="139.4" cy="388.2" r="6.4" fill="#FF0000"/>
<circle cx="194.0" cy="322.3" r="6.4" fill="#FF0000"/>
<circle cx="248.5" cy="282.7" r="6.4" fill="#FF0000"/>
<line x1="296.3" y1="324.8" x2="322.9" y2="324.8" stroke="#4A7EBB" stroke-width="1.7"/>
<path d="M309.5,320.6L313.7,324.8L309.5,329.0L305.3,324.8Z" fill="#4A7EBB"/>
<text x="326.4" y="329" class="ax">2016</text>
<text x="355.6" y="328.5" class="axy">年</text>
<line x1="391.3" y1="324.8" x2="417.9" y2="324.8" stroke="#BE4B48" stroke-width="1.4"/>
<text x="420.6" y="329" class="ax">2017</text>
<text x="449.8" y="328.5" class="axy">年</text>
<line x1="297.5" y1="345.3" x2="322" y2="345.3" stroke="#98B954" stroke-width="3.4" stroke-linecap="round"/>
<path d="M309.8,341.1L314.1,349.7L305.5,349.7Z" fill="#98B954"/>
<text x="326.4" y="349.6" class="ax">2018</text>
<text x="355.6" y="349.1" class="axy">年</text>
<line x1="392.2" y1="345.3" x2="416.8" y2="345.3" stroke="#000" stroke-width="4.3" stroke-linecap="round"/>
<path d="M404.5,341.1L408.7,345.3L404.5,349.5L400.3,345.3Z" fill="#000" stroke="#000" stroke-width="1.6" stroke-linejoin="round"/>
<text x="420.6" y="349.6" class="ax">2019</text>
<text x="449.8" y="349.1" class="axy">年</text>
<line x1="298" y1="365.3" x2="322.6" y2="365.3" stroke="#FF0000" stroke-width="6.2" stroke-linecap="round"/>
<circle cx="309.5" cy="365.3" r="5.7" fill="#FF0000"/>
<text x="326.4" y="369.8" class="ax">2020</text>
<text x="355.6" y="369.3" class="axy">年</text>
</svg>
</body></html>
